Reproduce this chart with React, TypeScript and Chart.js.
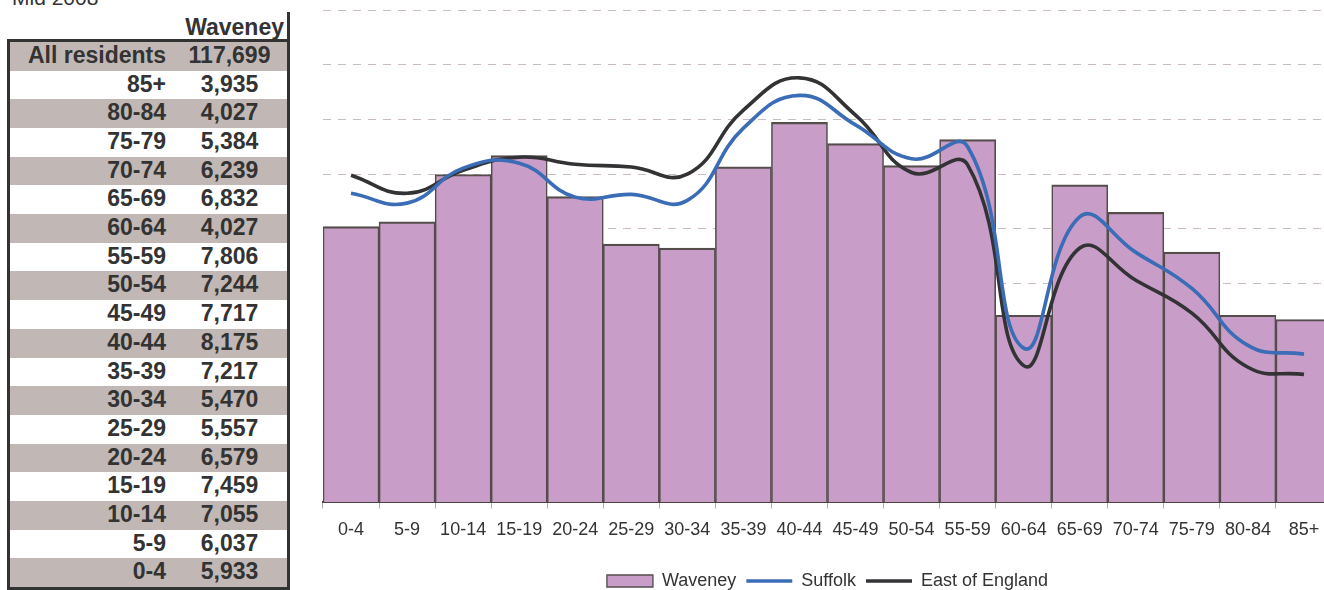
import React, { useEffect, useRef } from 'react';
import { Chart, registerables } from 'chart.js';

Chart.register(...registerables);

const ageGroups = ['0-4', '5-9', '10-14', '15-19', '20-24', '25-29', '30-34', '35-39', '40-44', '45-49', '50-54', '55-59', '60-64', '65-69', '70-74', '75-79', '80-84', '85+'];
const waveneyCounts = [5933, 6037, 7055, 7459, 6579, 5557, 5470, 7217, 8175, 7717, 7244, 7806, 4027, 6832, 6239, 5384, 4027, 3935];
const waveneyTotal = 117699;
const suffolkPct = [5.65, 5.47, 6.11, 6.2, 5.58, 5.63, 5.52, 6.84, 7.44, 6.9, 6.28, 6.5, 2.82, 5.22, 4.57, 3.91, 2.87, 2.71];
const eastPct = [5.98, 5.65, 6.07, 6.31, 6.18, 6.13, 6.0, 7.17, 7.76, 7.08, 6.03, 6.17, 2.5, 4.65, 4.06, 3.46, 2.47, 2.34];
const yMax = 9;
const yStep = 1;
const periodLabel = 'Mid 2008';
const areaName = 'Waveney';
const totalLabel = 'All residents';
const seriesNames = ['Waveney', 'Suffolk', 'East of England'];

const FONT = '"Liberation Sans", Arial, Helvetica, sans-serif';
const TEXT = '#333333';
const ROW_GRAY = '#c1b8b5';

const fmt = (v: number) => String(v).replace(/\B(?=(\d{3})+(?!\d))/g, ',');

function DataTable() {
  const rows = [{ label: totalLabel, value: waveneyTotal }].concat(
    ageGroups.map((g, i) => ({ label: g, value: waveneyCounts[i] })).reverse()
  );
  const rowH = 545 / rows.length;
  return (
    <div>
      <div style={{ position: 'absolute', left: 12, top: -13, fontSize: 21, lineHeight: '21px', color: TEXT, whiteSpace: 'nowrap' }}>
        {periodLabel}
      </div>
      <div style={{ position: 'absolute', left: 172, top: 12, width: 115, height: 27, borderRight: '3px solid #333', boxSizing: 'content-box' }}>
        <div style={{ position: 'absolute', right: 3, top: 2, fontSize: 23, fontWeight: 'bold', lineHeight: '26px', color: TEXT }}>{areaName}</div>
      </div>
      <div style={{ position: 'absolute', left: 7, top: 39, width: 277, height: 545, border: '3px solid #333' }}>
        {rows.map((r, i) => (
          <div key={r.label} style={{ position: 'absolute', left: 0, top: i * rowH, width: 277, height: rowH, background: i % 2 === 0 ? ROW_GRAY : '#ffffff', fontSize: 23, fontWeight: 'bold', color: TEXT, lineHeight: `${rowH}px` }}>
            <div style={{ position: 'absolute', left: 0, width: 156, top: -1, textAlign: 'right', whiteSpace: 'nowrap' }}>{r.label}</div>
            <div style={{ position: 'absolute', left: 162, width: 115, top: -1, textAlign: 'center', whiteSpace: 'nowrap' }}>{fmt(r.value)}</div>
          </div>
        ))}
      </div>
    </div>
  );
}

function PyramidChart() {
  const ref = useRef<HTMLCanvasElement | null>(null);
  useEffect(() => {
    if (!ref.current) return;
    Chart.defaults.font.family = FONT;
    const waveneyPct = waveneyCounts.map((v) => (v / waveneyTotal) * 100);
    const chart = new Chart(ref.current, {
      type: 'bar',
      data: {
        labels: ageGroups,
        datasets: [
          {
            type: 'bar',
            label: seriesNames[0],
            data: waveneyPct,
            backgroundColor: '#c89ec8',
            borderColor: '#554c4c',
            borderWidth: { top: 2.2, left: 1.6, right: 1.6, bottom: 0 },
            borderSkipped: false,
            barPercentage: 1,
            categoryPercentage: 1,
            order: 3,
            pointStyle: 'rect',
          } as any,
          {
            type: 'line',
            label: seriesNames[1],
            data: suffolkPct,
            borderColor: '#3b6cb6',
            backgroundColor: '#3b6cb6',
            borderWidth: 3.6,
            tension: 0.45,
            pointRadius: 0,
            order: 1,
            pointStyle: 'line',
          } as any,
          {
            type: 'line',
            label: seriesNames[2],
            data: eastPct,
            borderColor: '#333336',
            backgroundColor: '#333336',
            borderWidth: 3.6,
            tension: 0.45,
            pointRadius: 0,
            order: 2,
            pointStyle: 'line',
          } as any,
        ],
      },
      options: {
        responsive: false,
        animation: false,
        devicePixelRatio: 1,
        layout: { padding: { top: 10, left: 10, right: 0, bottom: 0 } },
        plugins: {
          legend: {
            position: 'bottom',
            labels: {
              usePointStyle: true,
              pointStyleWidth: 46,
              boxHeight: 12,
              font: { size: 18, family: FONT },
              color: TEXT,
              padding: 10,
              sort: (a: any, b: any) => a.datasetIndex - b.datasetIndex,
            },
          },
          tooltip: { enabled: false },
        },
        scales: {
          x: {
            grid: { drawOnChartArea: false, drawTicks: true, tickLength: 6, color: '#a8a8a8' },
            border: { display: true, color: '#4a4444', width: 2 },
            ticks: { font: { size: 18, family: FONT }, color: TEXT, padding: 11, maxRotation: 0, autoSkip: false },
            afterFit: (s: any) => { s.height += 10; },
          },
          y: {
            min: 0,
            max: yMax,
            ticks: { display: false, stepSize: yStep },
            grid: { color: '#cbbbbe', lineWidth: 1, drawTicks: false },
            border: { display: false, dash: [8, 7] },
          },
        },
      } as any,
    });
    return () => chart.destroy();
  }, []);
  return <canvas ref={ref} width={1019} height={600} style={{ position: 'absolute', left: 313, top: 0 }} />;
}

export default function App() {
  return (
    <div style={{ position: 'fixed', left: 0, top: 0, width: 1324, height: 590, overflow: 'hidden', background: '#fff', fontFamily: FONT }}>
      <DataTable />
      <PyramidChart />
    </div>
  );
}
